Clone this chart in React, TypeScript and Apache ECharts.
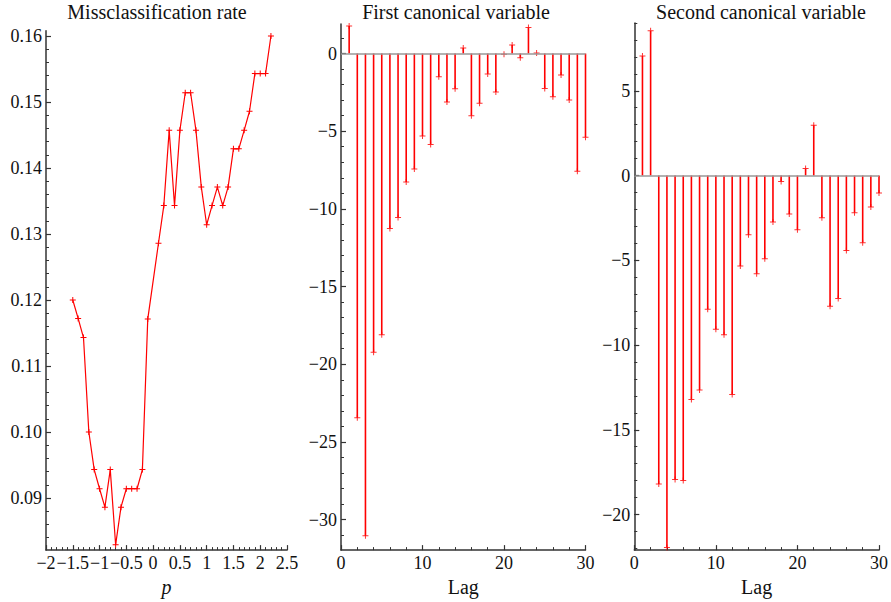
import React, { useEffect, useRef } from "react";
import * as echarts from "echarts";

// ---------- data ----------
const pValues = [
  -1.5, -1.4, -1.3, -1.2, -1.1, -1.0, -0.9, -0.8, -0.7, -0.6, -0.5, -0.4, -0.3, -0.2, -0.1,
  0.1, 0.2, 0.3, 0.4, 0.5, 0.6, 0.7, 0.8, 0.9, 1.0, 1.1, 1.2, 1.3, 1.4, 1.5, 1.6, 1.7, 1.8,
  1.9, 2.0, 2.1, 2.2,
];
const missRate = [
  0.12, 0.1172, 0.1143, 0.1, 0.0943, 0.0914, 0.0886, 0.0943, 0.0829, 0.0886, 0.0914, 0.0914,
  0.0914, 0.0943, 0.1171, 0.1286, 0.1343, 0.1457, 0.1343, 0.1457, 0.1514, 0.1514, 0.1457,
  0.1371, 0.1314, 0.1343, 0.1371, 0.1343, 0.1371, 0.1429, 0.1429, 0.1457, 0.1486, 0.1543,
  0.1543, 0.1543, 0.16,
];
const lags = [
  1, 2, 3, 4, 5, 6, 7, 8, 9, 10, 11, 12, 13, 14, 15, 16, 17, 18, 19, 20, 21, 22, 23, 24, 25,
  26, 27, 28, 29, 30,
];
const firstCanon = [
  1.77, -23.44, -31.04, -19.23, -18.1, -11.26, -10.55, -8.27, -7.43, -5.31, -5.85, -1.49,
  -3.12, -2.27, 0.36, -4.0, -3.2, -1.31, -2.48, -0.04, 0.55, -0.27, 1.68, 0.04, -2.25, -2.78,
  -1.39, -2.99, -7.58, -5.39,
];
const secondCanon = [
  7.05, 8.54, -18.2, -21.95, -17.93, -17.99, -13.21, -12.65, -7.89, -9.07, -9.4, -12.92,
  -5.34, -3.5, -5.79, -4.91, -2.74, -0.35, -2.27, -3.2, 0.41, 2.97, -2.49, -7.71, -7.25,
  -4.43, -2.19, -3.96, -1.86, -1.03,
];

// tick labels
const leftXTicks = [-2, -1.5, -1, -0.5, 0, 0.5, 1, 1.5, 2, 2.5];
const leftYTicks = [0.09, 0.1, 0.11, 0.12, 0.13, 0.14, 0.15, 0.16];
const lagTicks = [0, 10, 20, 30];
const firstYTicks = [-30, -25, -20, -15, -10, -5, 0];
const secondYTicks = [-20, -15, -10, -5, 0, 5];

const titles = ["Missclassification rate", "First canonical variable", "Second canonical variable"];

// ---------- style helpers ----------
const SERIF = "Liberation Serif";
const AXIS_COLOR = "#333";
const TEXT_COLOR = "#111";
const RED = "#ff0000";
const PLUS = "path://M0,2.5H6V3.5H0ZM2.5,0H3.5V6H2.5Z";

function range(a: number, b: number, step: number): number[] {
  const out: number[] = [];
  const n = Math.round((b - a) / step);
  for (let i = 0; i <= n; i++) out.push(Number((a + i * step).toFixed(6)));
  return out;
}

const minus = (s: string) => s.replace("-", "\u2212");

function axisPair(
  dim: "x" | "y",
  gridIndex: number,
  min: number,
  max: number,
  majors: number[],
  minors: number[],
  fmt: (v: number) => string,
  name?: string,
  italic?: boolean
) {
  const position = dim === "x" ? "bottom" : "left";
  const primary: any = {
    type: "value",
    gridIndex,
    min,
    max,
    position,
    offset: 0,
    axisLine: { show: true, onZero: false, lineStyle: { color: AXIS_COLOR, width: 1.5 } },
    axisTick: {
      show: true,
      inside: true,
      length: 5,
      customValues: majors,
      lineStyle: { color: AXIS_COLOR, width: 1.2 },
    },
    axisLabel: {
      show: true,
      customValues: majors,
      formatter: (v: number) => fmt(v),
      margin: 4,
      fontSize: 18,
      fontFamily: SERIF,
      color: TEXT_COLOR,
      hideOverlap: false,
    },
    splitLine: { show: false },
    minorTick: { show: false },
  };
  if (name) {
    primary.name = name;
    primary.nameLocation = "middle";
    primary.nameGap = 18;
    primary.nameTextStyle = {
      fontSize: 20,
      fontFamily: SERIF,
      color: TEXT_COLOR,
      fontStyle: italic ? "italic" : "normal",
      verticalAlign: "top",
    };
  }
  const secondary: any = {
    type: "value",
    gridIndex,
    min,
    max,
    position,
    offset: 0,
    axisLine: { show: false, onZero: false },
    axisTick: {
      show: true,
      inside: true,
      length: 3,
      customValues: minors,
      lineStyle: { color: AXIS_COLOR, width: 1 },
    },
    axisLabel: { show: false },
    splitLine: { show: false },
  };
  return [primary, secondary];
}

export default function App() {
  const ref = useRef<HTMLDivElement>(null);

  useEffect(() => {
    document.body.style.margin = "0";
    if (!ref.current) return;
    const chart = echarts.init(ref.current, null, { renderer: "svg" });

    const grids = [
      { left: 46, top: 30.7, width: 241, bottom: 43.3 },
      { left: 341, top: 24, width: 244.5, bottom: 43.3 },
      { left: 634.3, top: 23, width: 245, bottom: 43.3 },
    ];

    const lagFmt = (v: number) => minus(String(v));
    const xAxes = [
      ...axisPair("x", 0, -2, 2.5, leftXTicks, range(-2, 2.5, 0.1), (v) => minus(String(v)), "p", true),
      ...axisPair("x", 1, 0, 30, lagTicks, range(0, 30, 2), lagFmt, "Lag"),
      ...axisPair("x", 2, 0, 30, lagTicks, range(0, 30, 2), lagFmt, "Lag"),
    ];
    const yAxes = [
      ...axisPair("y", 0, 0.0821, 0.1608, leftYTicks, range(0.084, 0.16, 0.002), (v) => v.toFixed(2)),
      ...axisPair("y", 1, -31.96, 1.9, firstYTicks, range(-31, 1, 1), lagFmt),
      ...axisPair("y", 2, -22.1, 9.0, secondYTicks, range(-22, 9, 1), lagFmt),
    ];

    const zeroLine = {
      silent: true,
      symbol: ["none", "none"],
      label: { show: false },
      lineStyle: { color: "#999", width: 1.5, type: "solid" },
      data: [{ yAxis: 0 }],
    };

    const stems = (axisIdx: number, values: number[]) => [
      {
        type: "bar",
        xAxisIndex: axisIdx,
        yAxisIndex: axisIdx,
        barWidth: 1.6,
        itemStyle: { color: RED },
        data: lags.map((l, i) => [l, values[i]]),
        markLine: zeroLine,
        z: 2,
      },
      {
        type: "scatter",
        xAxisIndex: axisIdx,
        yAxisIndex: axisIdx,
        symbol: PLUS,
        symbolSize: 6,
        itemStyle: { color: RED },
        data: lags.map((l, i) => [l, values[i]]),
        z: 3,
      },
    ];

    const titleX = [157, 456, 761];

    chart.setOption({
      animation: false,
      backgroundColor: "#fff",
      grid: grids,
      xAxis: xAxes,
      yAxis: yAxes,
      graphic: titles.map((t, i) => ({
        type: "text",
        x: titleX[i],
        y: 2,
        style: {
          text: t,
          fontSize: 20,
          fontFamily: SERIF,
          fill: TEXT_COLOR,
          align: "center",
          verticalAlign: "top",
        },
      })),
      series: [
        {
          type: "line",
          xAxisIndex: 0,
          yAxisIndex: 0,
          data: pValues.map((p, i) => [p, missRate[i]]),
          symbol: PLUS,
          symbolSize: 6,
          showAllSymbol: true,
          lineStyle: { color: RED, width: 1.2 },
          itemStyle: { color: RED },
        },
        ...stems(2, firstCanon),
        ...stems(4, secondCanon),
      ],
    });

    return () => chart.dispose();
  }, []);

  return <div ref={ref} style={{ width: 891, height: 602 }} />;
}
